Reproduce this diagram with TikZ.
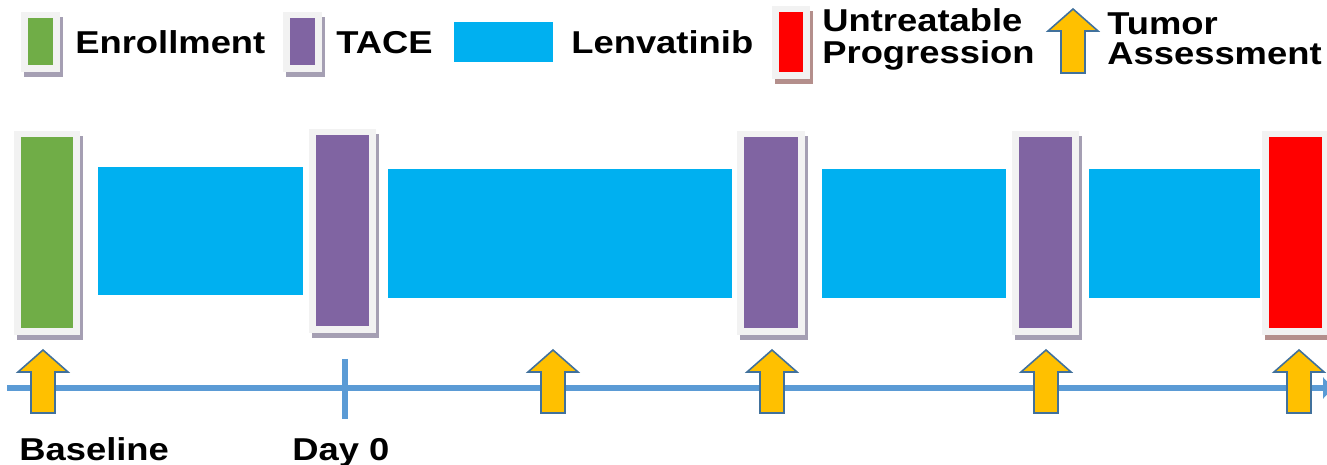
\documentclass[tikz,border=0pt]{standalone}
\usepackage{fontspec}
\setmainfont{Liberation Sans}
\usetikzlibrary{arrows.meta}

\definecolor{enrollgreen}{HTML}{70AD47}
\definecolor{tacepurple}{HTML}{8064A2}
\definecolor{lenvablue}{HTML}{00B0F0}
\definecolor{progred}{HTML}{FF0000}
\definecolor{framegray}{HTML}{F2F2F2}
\definecolor{shadowgray}{HTML}{A59FB3}
\definecolor{shadowred}{HTML}{B48F8C}
\definecolor{axisblue}{HTML}{5B9BD5}
\definecolor{arrowgold}{HTML}{FFC000}
\definecolor{arrowedge}{HTML}{41719C}

\tikzset
{
  timeline/.style={draw=axisblue,line width=0.13cm},
  assess/.style={fill=arrowgold,draw=arrowedge,line width=0.9pt,line join=miter},
  lenva/.style={fill=lenvablue},
  caption/.style={font=\bfseries\fontsize{18}{22}\selectfont,inner sep=0pt,anchor=base west}
}

% labels are set a little wider than the font
\newcommand\widen[1]{\scalebox{1.15}[1]{#1}}

% framed phase box: frame corners, fill colour, shadow colour
\newcommand\phasebox[6]{%
  \fill[#6] (#1+3,#2+5) rectangle (#3+3,#4+5);
  \fill[framegray] (#1,#2) rectangle (#3,#4);
  \fill[#5] (#1+7,#2+6) rectangle (#3-7,#4-7);
}

% tumor assessment arrow: centre x, tip y, foot y
\newcommand\assessarrow[3]{%
  \draw[assess] (#1,#2) -- (#1+25,#2+22) -- (#1+12,#2+22) -- (#1+12,#3)
    -- (#1-12,#3) -- (#1-12,#2+22) -- (#1-25,#2+22) -- cycle;
}

\begin{document}
\begin{tikzpicture}[x=0.02cm,y=-0.02cm]
  \useasboundingbox (0,0) rectangle (1327,465);

  % Legend
  \phasebox{21}{12}{60}{72}{enrollgreen}{shadowgray}
  \node[caption] (enrolltext) at (75,54) {\widen{Enrollment}};
  \phasebox{283}{12}{322}{72}{tacepurple}{shadowgray}
  \node[caption] (tacetext) at (336,54) {\widen{TACE}};
  \fill[lenva] (454,22) rectangle (553,62);
  \node[caption] (lenvatext) at (571,54) {\widen{Lenvatinib}};
  \phasebox{772}{6}{810}{79}{progred}{shadowred}
  \node[caption] (untreattext) at (822,32) {\widen{Untreatable}};
  \node[caption] (progtext) at (822,64) {\widen{Progression}};
  \assessarrow{1073}{9}{73}
  \node[caption] (tumortext) at (1107,35) {\widen{Tumor}};
  \node[caption] (assesstext) at (1107,65) {\widen{Assessment}};

  % Treatment phases
  \phasebox{14}{131}{80}{335}{enrollgreen}{shadowgray}
  \fill[lenva] (98,167) rectangle (303,295);
  \phasebox{309}{129}{376}{333}{tacepurple}{shadowgray}
  \fill[lenva] (388,169) rectangle (732,298);
  \phasebox{737}{131}{805}{335}{tacepurple}{shadowgray}
  \fill[lenva] (822,169) rectangle (1006,298);
  \phasebox{1012}{131}{1079}{335}{tacepurple}{shadowgray}
  \fill[lenva] (1089,169) rectangle (1260,298);
  \phasebox{1262}{131}{1329}{335}{progred}{shadowred}

  % Time axis with the Day 0 tick
  \draw[timeline,-{Triangle[length=0.2cm,width=0.42cm]}] (7,388) -- (1333,388);
  \draw[timeline] (345,359) -- (345,419);

  % Tumor assessments
  \foreach \x in {43,553,772,1046,1299}
  {
    \assessarrow{\x}{350}{413}
  }

  \node[caption] (basetext) at (19,460) {\widen{Baseline}};
  \node[caption] (daytext) at (292,460) {\widen{Day 0}};
\end{tikzpicture}
\end{document}
